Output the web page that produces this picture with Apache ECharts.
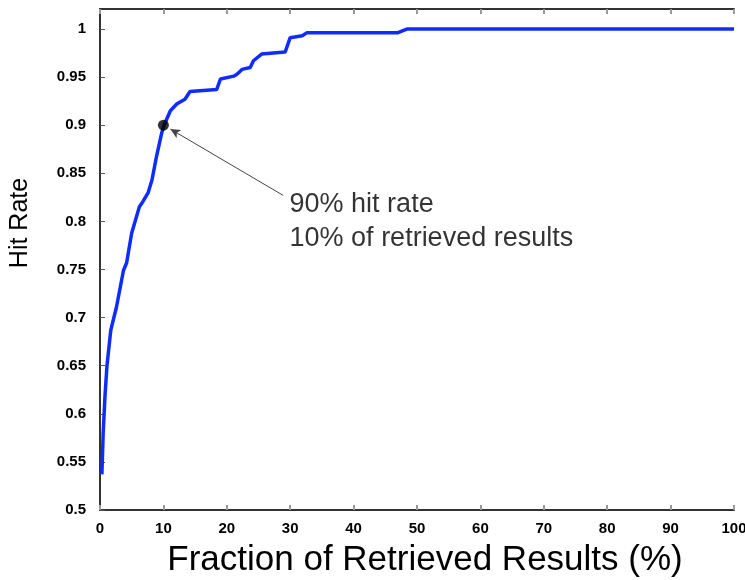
<!DOCTYPE html>
<html>
<head>
<meta charset="utf-8">
<script src="https://cdn.jsdelivr.net/npm/echarts@6/dist/echarts.min.js"></script>
<style>
  html, body { margin: 0; padding: 0; background: #fff; }
  #main { width: 745px; height: 580px; }
</style>
</head>
<body>
<div id="main"></div>
<script>
// fraction of retrieved results (%) and hit rate
var fraction = [0.3, 0.5, 0.8, 1.1, 1.7, 2.6, 3.7, 4.2, 5.0, 6.2, 6.8, 7.6, 8.2, 8.9, 9.7, 10.1,
                11.1, 12.1, 13.4, 14.2, 18.4, 19.0, 21.1, 21.6, 22.4, 23.7, 24.2, 25.5, 29.2,
                30.0, 31.9, 32.6, 46.9, 48.4, 100];
var hitRate = [0.537, 0.58, 0.62, 0.65, 0.687, 0.711, 0.749, 0.757, 0.788, 0.815, 0.821, 0.83, 0.843,
               0.867, 0.891, 0.9, 0.915, 0.922, 0.927, 0.935, 0.937, 0.948, 0.951, 0.953, 0.958, 0.96,
               0.967, 0.974, 0.976, 0.991, 0.993, 0.996, 0.996, 1.0, 1.0];

var markedPoint = [10, 0.9];
var arrowTail = [28.9, 0.827];
var arrowHead = [11.1, 0.896];
var noteAnchor = [29.9, 0.835];
var noteLines = ['90% hit rate', '10% of retrieved results'];

var xTitle = 'Fraction of Retrieved Results (%)';
var yTitle = 'Hit Rate';

var curve = fraction.map(function (f, i) { return [f, hitRate[i]]; });

var font = 'Liberation Sans, Arial, Helvetica, sans-serif';

function yLabel(v) {
    var k = v / 0.05;
    if (Math.abs(k - Math.round(k)) > 1e-6) return '';
    return String(+v.toFixed(2));
}

var chart = echarts.init(document.getElementById('main'));

var option = {
    backgroundColor: '#fff',
    animation: false,
    grid: {
        left: 100,
        right: 11,
        top: 9,
        bottom: 70,
        outerBoundsMode: 'none'
    },
    xAxis: [
        {
            type: 'value',
            min: 0,
            max: 100,
            interval: 10,
            name: xTitle,
            nameLocation: 'middle',
            nameGap: 33,
            nameTextStyle: { fontFamily: font, fontSize: 35, color: '#000', padding: [0, 0, 0, 16] },
            axisLine: { lineStyle: { color: '#333', width: 2 } },
            axisTick: { inside: true, length: 5, lineStyle: { color: '#999', width: 2 } },
            axisLabel: { fontFamily: font, fontSize: 15, fontWeight: 'bold', color: '#000', margin: 11 },
            splitLine: { show: false }
        },
        {
            type: 'value',
            position: 'top',
            min: 0,
            max: 100,
            interval: 10,
            axisLine: { lineStyle: { color: '#333', width: 2 } },
            axisTick: { inside: true, length: 5, lineStyle: { color: '#999', width: 2 } },
            axisLabel: { show: false },
            splitLine: { show: false }
        }
    ],
    yAxis: [
        {
            type: 'value',
            min: 0.5,
            max: 1.0208,
            interval: 0.05,
            name: yTitle,
            nameLocation: 'middle',
            nameGap: 67,
            nameTextStyle: { fontFamily: font, fontSize: 25, color: '#000', padding: [0, 0, 0, 73] },
            axisLine: { lineStyle: { color: '#333', width: 2 } },
            axisTick: { inside: true, length: 5, lineStyle: { color: '#555', width: 1 } },
            axisLabel: { fontFamily: font, fontSize: 15, fontWeight: 'bold', color: '#000', margin: 14,
                         formatter: yLabel, showMaxLabel: false },
            splitLine: { show: false }
        },
        {
            type: 'value',
            position: 'right',
            min: 0.5,
            max: 1.0208,
            interval: 0.05,
            axisLine: { lineStyle: { color: '#333', width: 2 } },
            axisTick: { show: false },
            axisLabel: { show: false },
            splitLine: { show: false }
        }
    ],
    series: [
        {
            name: 'Hit rate',
            type: 'line',
            data: curve,
            showSymbol: false,
            lineStyle: { color: '#0f2cff', width: 3.5 },
            markLine: {
                silent: true,
                symbol: ['none', 'arrow'],
                symbolSize: [7, 10],
                label: { show: false },
                lineStyle: { color: '#444', width: 1, type: 'solid' },
                data: [[{ coord: arrowTail }, { coord: arrowHead }]]
            },
            z: 2
        },
        {
            name: 'Marked point',
            type: 'scatter',
            data: [markedPoint],
            symbol: 'circle',
            symbolSize: 11,
            itemStyle: { color: '#000' },
            z: 3
        },
        {
            name: 'Note',
            type: 'scatter',
            data: [noteAnchor],
            symbolSize: 0,
            label: {
                show: true,
                position: [0, 0],
                align: 'left',
                verticalAlign: 'top',
                formatter: noteLines.join('\n'),
                fontFamily: font,
                fontSize: 27,
                lineHeight: 34,
                color: '#000'
            },
            z: 3
        }
    ]
};

chart.setOption(option);
</script>
</body>
</html>
